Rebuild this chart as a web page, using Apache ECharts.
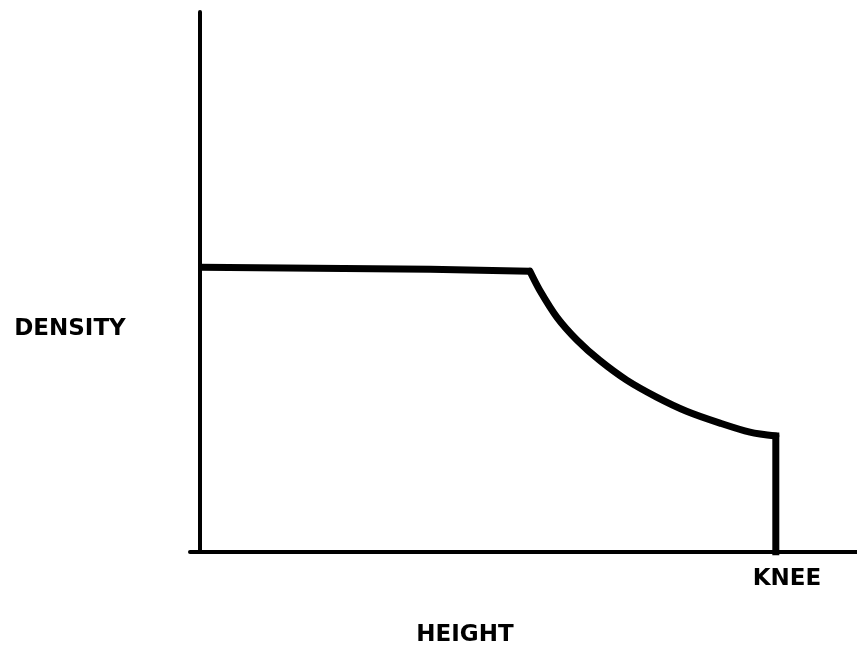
<!DOCTYPE html>
<html>
<head>
<meta charset="utf-8">
<script src="https://cdn.jsdelivr.net/npm/echarts@6/dist/echarts.min.js"></script>
<style>
  html, body { margin: 0; padding: 0; background: #fff; }
  #chart { width: 857px; height: 654px; }
</style>
</head>
<body>
<div id="chart"></div>
<script>
// height (knee = 10) vs density (flat level ~ 1)
const flatHeight = [0, 4.0, 5.73]
const flatDensity = [1.007, 1.0, 0.993]

const curveHeight = [5.73, 5.90, 6.20, 6.55, 6.94, 7.41, 7.93, 8.45, 9.03, 9.55, 10]
const curveDensity = [0.993, 0.926, 0.830, 0.749, 0.678, 0.608, 0.548, 0.498, 0.456, 0.424, 0.41]

const dropHeight = [10, 10]
const dropDensity = [0.41, 0]

const xLabel = 'HEIGHT'
const yLabel = 'DENSITY'
const kneeLabel = 'KNEE'

const chart = echarts.init(document.getElementById('chart'), null, {
  renderer: 'canvas',
  width: 857,
  height: 654,
})

const pairs = (xs, ys) => xs.map((x, i) => [x, ys[i]])

const lineStyle = { color: '#000', width: 7, join: 'miter', cap: 'butt' }

const labelFont = {
  fontFamily: 'DejaVu Sans',
  fontWeight: 'bold',
  fontSize: 23,
  fill: '#000',
  align: 'center',
  verticalAlign: 'middle',
}

const option = {
  backgroundColor: '#fff',
  animation: false,
  grid: { left: 190, right: 0, top: 12, bottom: 102 },
  xAxis: {
    type: 'value',
    min: -0.1736,
    max: 11.41,
    axisLine: { show: true, lineStyle: { color: '#000', width: 4 } },
    axisTick: { show: false },
    axisLabel: { show: false },
    splitLine: { show: false },
  },
  yAxis: {
    type: 'value',
    min: 0,
    max: 1.91,
    offset: -10,
    axisLine: { show: true, lineStyle: { color: '#000', width: 4 } },
    axisTick: { show: false },
    axisLabel: { show: false },
    splitLine: { show: false },
  },
  series: [
    {
      type: 'line',
      data: pairs(flatHeight, flatDensity),
      symbol: 'none',
      lineStyle,
    },
    {
      type: 'line',
      data: pairs(curveHeight, curveDensity),
      symbol: 'none',
      smooth: 0.3,
      lineStyle: { ...lineStyle, cap: 'round' },
    },
    {
      type: 'line',
      data: pairs(dropHeight, dropDensity),
      symbol: 'none',
      lineStyle: { ...lineStyle, cap: 'square' },
    },
  ],
  graphic: [
    { type: 'text', x: 70, y: 329, style: { text: yLabel, ...labelFont } },
    { type: 'text', x: 787, y: 579, style: { text: kneeLabel, ...labelFont } },
    { type: 'text', x: 465, y: 635, style: { text: xLabel, ...labelFont } },
  ],
}

chart.setOption(option)
</script>
</body>
</html>
